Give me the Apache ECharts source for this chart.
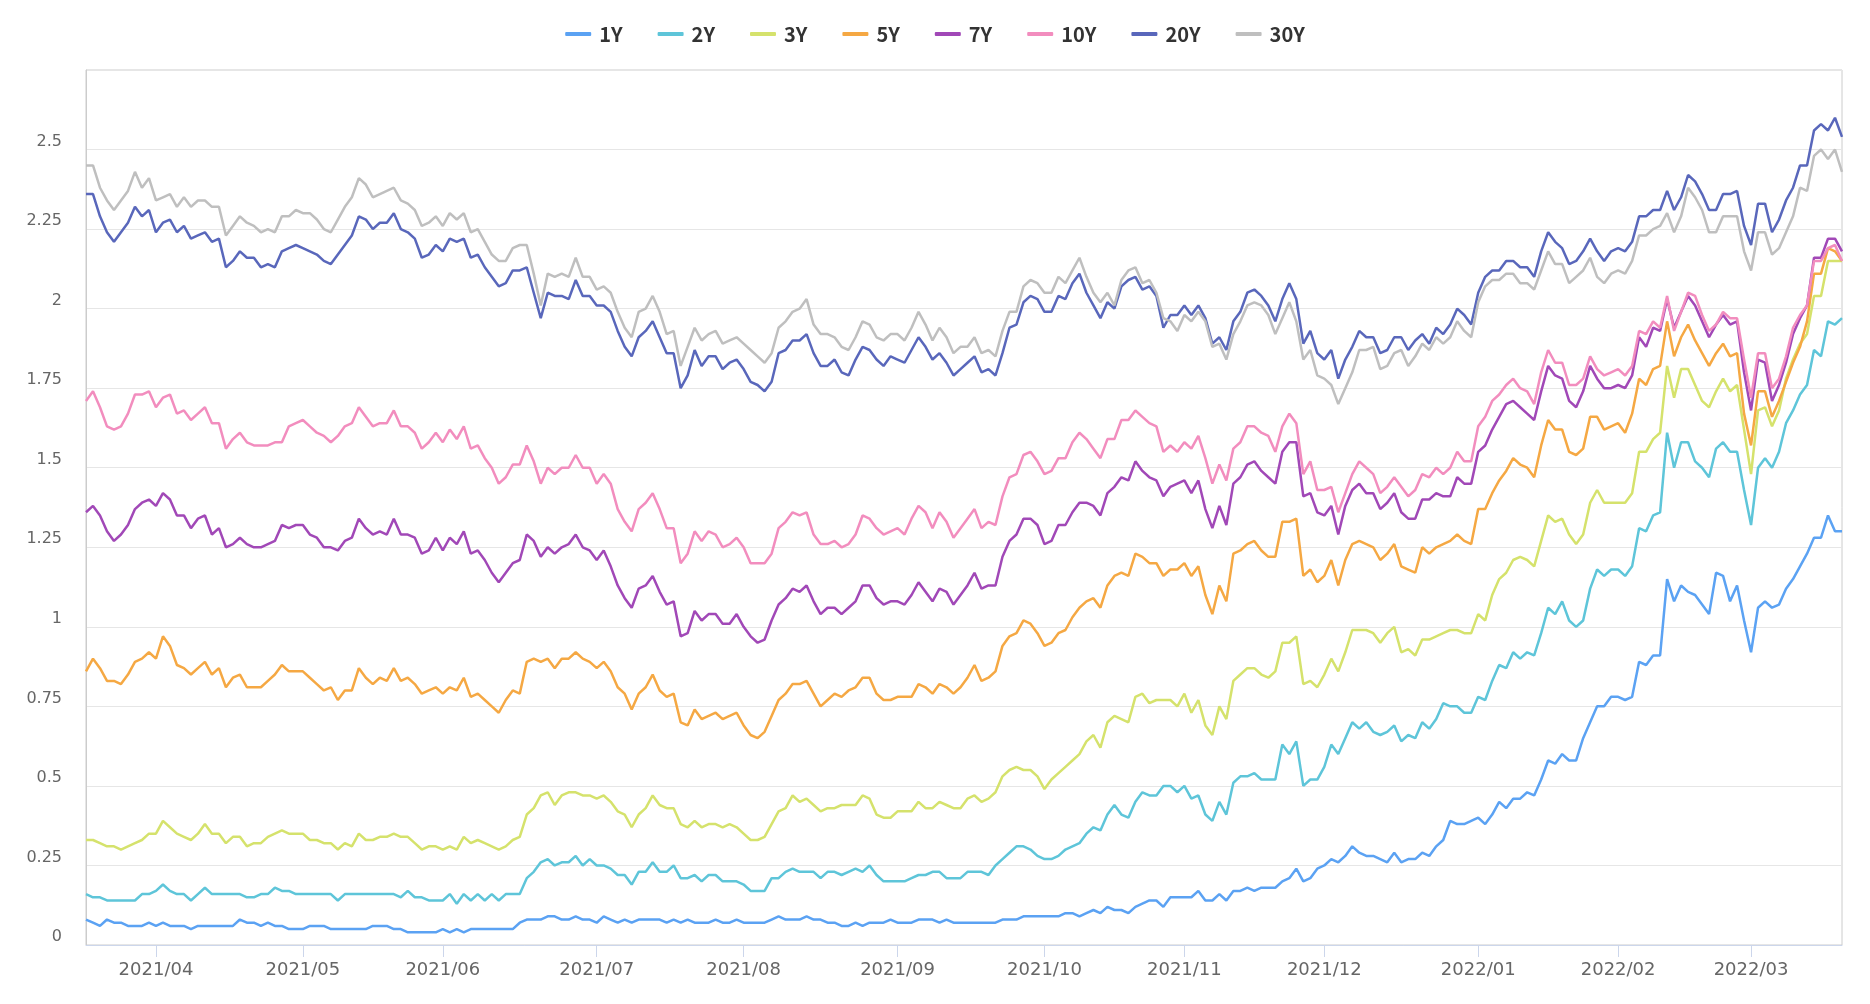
<!DOCTYPE html>
<html>
<head>
<meta charset="utf-8">
<script src="https://cdn.jsdelivr.net/npm/echarts@6/dist/echarts.min.js"></script>
<style>html,body{margin:0;padding:0;background:#fff}#c{width:1870px;height:1004px}</style>
</head>
<body>
<div id="c"></div>
<script>
// Trading days (categories)
const dates = [
'2021-03-18','2021-03-19','2021-03-22','2021-03-23','2021-03-24','2021-03-25','2021-03-26','2021-03-29','2021-03-30','2021-03-31',
'2021-04-01','2021-04-05','2021-04-06','2021-04-07','2021-04-08','2021-04-09','2021-04-12','2021-04-13','2021-04-14','2021-04-15','2021-04-16','2021-04-19','2021-04-20','2021-04-21','2021-04-22','2021-04-23','2021-04-26','2021-04-27','2021-04-28','2021-04-29','2021-04-30',
'2021-05-03','2021-05-04','2021-05-05','2021-05-06','2021-05-07','2021-05-10','2021-05-11','2021-05-12','2021-05-13','2021-05-14','2021-05-17','2021-05-18','2021-05-19','2021-05-20','2021-05-21','2021-05-24','2021-05-25','2021-05-26','2021-05-27','2021-05-28',
'2021-06-01','2021-06-02','2021-06-03','2021-06-04','2021-06-07','2021-06-08','2021-06-09','2021-06-10','2021-06-11','2021-06-14','2021-06-15','2021-06-16','2021-06-17','2021-06-18','2021-06-21','2021-06-22','2021-06-23','2021-06-24','2021-06-25','2021-06-28','2021-06-29','2021-06-30',
'2021-07-01','2021-07-02','2021-07-06','2021-07-07','2021-07-08','2021-07-09','2021-07-12','2021-07-13','2021-07-14','2021-07-15','2021-07-16','2021-07-19','2021-07-20','2021-07-21','2021-07-22','2021-07-23','2021-07-26','2021-07-27','2021-07-28','2021-07-29','2021-07-30',
'2021-08-02','2021-08-03','2021-08-04','2021-08-05','2021-08-06','2021-08-09','2021-08-10','2021-08-11','2021-08-12','2021-08-13','2021-08-16','2021-08-17','2021-08-18','2021-08-19','2021-08-20','2021-08-23','2021-08-24','2021-08-25','2021-08-26','2021-08-27','2021-08-30','2021-08-31',
'2021-09-01','2021-09-02','2021-09-03','2021-09-07','2021-09-08','2021-09-09','2021-09-10','2021-09-13','2021-09-14','2021-09-15','2021-09-16','2021-09-17','2021-09-20','2021-09-21','2021-09-22','2021-09-23','2021-09-24','2021-09-27','2021-09-28','2021-09-29','2021-09-30',
'2021-10-01','2021-10-04','2021-10-05','2021-10-06','2021-10-07','2021-10-08','2021-10-12','2021-10-13','2021-10-14','2021-10-15','2021-10-18','2021-10-19','2021-10-20','2021-10-21','2021-10-22','2021-10-25','2021-10-26','2021-10-27','2021-10-28','2021-10-29',
'2021-11-01','2021-11-02','2021-11-03','2021-11-04','2021-11-05','2021-11-08','2021-11-09','2021-11-10','2021-11-12','2021-11-15','2021-11-16','2021-11-17','2021-11-18','2021-11-19','2021-11-22','2021-11-23','2021-11-24','2021-11-26','2021-11-29','2021-11-30',
'2021-12-01','2021-12-02','2021-12-03','2021-12-06','2021-12-07','2021-12-08','2021-12-09','2021-12-10','2021-12-13','2021-12-14','2021-12-15','2021-12-16','2021-12-17','2021-12-20','2021-12-21','2021-12-22','2021-12-23','2021-12-27','2021-12-28','2021-12-29','2021-12-30','2021-12-31',
'2022-01-03','2022-01-04','2022-01-05','2022-01-06','2022-01-07','2022-01-10','2022-01-11','2022-01-12','2022-01-13','2022-01-14','2022-01-18','2022-01-19','2022-01-20','2022-01-21','2022-01-24','2022-01-25','2022-01-26','2022-01-27','2022-01-28','2022-01-31',
'2022-02-01','2022-02-02','2022-02-03','2022-02-04','2022-02-07','2022-02-08','2022-02-09','2022-02-10','2022-02-11','2022-02-14','2022-02-15','2022-02-16','2022-02-17','2022-02-18','2022-02-22','2022-02-23','2022-02-24','2022-02-25','2022-02-28',
'2022-03-01','2022-03-02','2022-03-03','2022-03-04','2022-03-07','2022-03-08','2022-03-09','2022-03-10','2022-03-11','2022-03-14','2022-03-15','2022-03-16','2022-03-17','2022-03-18'
];

const seriesNames = ['1Y','2Y','3Y','5Y','7Y','10Y','20Y','30Y'];

const y1 = [
0.08,0.07,0.06,0.08,0.07,0.07,0.06,0.06,0.06,0.07,0.06,0.07,0.06,0.06,0.06,0.05,0.06,0.06,0.06,0.06,0.06,0.06,0.08,0.07,0.07,0.06,0.07,0.06,0.06,0.05,0.05,
0.05,0.06,0.06,0.06,0.05,0.05,0.05,0.05,0.05,0.05,0.06,0.06,0.06,0.05,0.05,0.04,0.04,0.04,0.04,0.04,0.05,0.04,0.05,0.04,0.05,0.05,0.05,0.05,0.05,0.05,0.05,0.07,0.08,0.08,0.08,0.09,
0.09,0.08,0.08,0.09,0.08,0.08,0.07,0.09,0.08,0.07,0.08,0.07,0.08,0.08,0.08,0.08,0.07,0.08,0.07,0.08,0.07,0.07,0.07,0.08,0.07,0.07,0.08,0.07,0.07,0.07,0.07,0.08,0.09,0.08,0.08,0.08,
0.09,0.08,0.08,0.07,0.07,0.06,0.06,0.07,0.06,0.07,0.07,0.07,0.08,0.07,0.07,0.07,0.08,0.08,0.08,0.07,0.08,0.07,0.07,0.07,0.07,0.07,0.07,0.07,0.08,0.08,0.08,0.09,0.09,0.09,0.09,0.09,0.09,
0.10,0.10,0.09,0.10,0.11,0.10,0.12,0.11,0.11,0.10,0.12,0.13,0.14,0.14,0.12,0.15,0.15,0.15,0.15,0.17,0.14,0.14,0.16,0.14,0.17,0.17,0.18,0.17,0.18,0.18,0.18,0.20,0.21,0.24,0.20,0.21,
0.24,0.25,0.27,0.26,0.28,0.31,0.29,0.28,0.28,0.27,0.26,0.29,0.26,0.27,0.27,0.29,0.28,0.31,0.33,0.39,0.38,0.38,0.39,0.40,0.38,0.41,0.45,0.43,0.46,0.46,0.48,0.47,0.52,0.58,0.57,
0.60,0.58,0.58,0.65,0.70,0.75,0.75,0.78,0.78,0.77,0.78,0.89,0.88,0.91,0.91,1.15,1.08,1.13,1.11,1.10,1.07,1.04,1.17,1.16,1.08,1.13,1.02,0.92,1.06,1.08,1.06,1.07,1.12,1.15,1.19,1.23,1.28,1.28,1.35,1.30,1.30
];
const y2 = [
0.16,0.15,0.15,0.14,0.14,0.14,0.14,0.14,0.16,0.16,0.17,0.19,0.17,0.16,0.16,0.14,0.16,0.18,0.16,0.16,0.16,0.16,0.16,0.15,0.15,0.16,0.16,0.18,0.17,0.17,0.16,
0.16,0.16,0.16,0.16,0.16,0.14,0.16,0.16,0.16,0.16,0.16,0.16,0.16,0.16,0.15,0.17,0.15,0.15,0.14,0.14,0.14,0.16,0.13,0.16,0.14,0.16,0.14,0.16,0.14,0.16,0.16,0.16,0.21,0.23,0.26,0.27,
0.25,0.26,0.26,0.28,0.25,0.27,0.25,0.25,0.24,0.22,0.22,0.19,0.23,0.23,0.26,0.23,0.23,0.25,0.21,0.21,0.22,0.20,0.22,0.22,0.20,0.20,0.20,0.19,0.17,0.17,0.17,0.21,0.21,0.23,0.24,0.23,
0.23,0.23,0.21,0.23,0.23,0.22,0.23,0.24,0.23,0.25,0.22,0.20,0.20,0.20,0.20,0.21,0.22,0.22,0.23,0.23,0.21,0.21,0.21,0.23,0.23,0.23,0.22,0.25,0.27,0.29,0.31,0.31,0.30,0.28,0.27,0.27,0.28,
0.30,0.31,0.32,0.35,0.37,0.36,0.41,0.44,0.41,0.40,0.45,0.48,0.47,0.47,0.50,0.50,0.48,0.50,0.46,0.47,0.41,0.39,0.45,0.41,0.51,0.53,0.53,0.54,0.52,0.52,0.52,0.63,0.60,0.64,0.50,0.52,
0.52,0.56,0.63,0.60,0.65,0.70,0.68,0.70,0.67,0.66,0.67,0.69,0.64,0.66,0.65,0.70,0.68,0.71,0.76,0.75,0.75,0.73,0.73,0.78,0.77,0.83,0.88,0.87,0.92,0.90,0.92,0.91,0.98,1.06,1.04,
1.08,1.02,1.00,1.02,1.12,1.18,1.16,1.18,1.18,1.16,1.19,1.31,1.30,1.35,1.36,1.61,1.50,1.58,1.58,1.52,1.50,1.47,1.56,1.58,1.55,1.55,1.43,1.32,1.50,1.53,1.50,1.55,1.64,1.68,1.73,1.76,1.87,1.85,1.96,1.95,1.97
];
const y3 = [
0.33,0.33,0.32,0.31,0.31,0.30,0.31,0.32,0.33,0.35,0.35,0.39,0.37,0.35,0.34,0.33,0.35,0.38,0.35,0.35,0.32,0.34,0.34,0.31,0.32,0.32,0.34,0.35,0.36,0.35,0.35,
0.35,0.33,0.33,0.32,0.32,0.30,0.32,0.31,0.35,0.33,0.33,0.34,0.34,0.35,0.34,0.34,0.32,0.30,0.31,0.31,0.30,0.31,0.30,0.34,0.32,0.33,0.32,0.31,0.30,0.31,0.33,0.34,0.41,0.43,0.47,0.48,
0.44,0.47,0.48,0.48,0.47,0.47,0.46,0.47,0.45,0.42,0.41,0.37,0.41,0.43,0.47,0.44,0.43,0.43,0.38,0.37,0.39,0.37,0.38,0.38,0.37,0.38,0.37,0.35,0.33,0.33,0.34,0.38,0.42,0.43,0.47,0.45,
0.46,0.44,0.42,0.43,0.43,0.44,0.44,0.44,0.47,0.46,0.41,0.40,0.40,0.42,0.42,0.42,0.45,0.43,0.43,0.45,0.44,0.43,0.43,0.46,0.47,0.45,0.46,0.48,0.53,0.55,0.56,0.55,0.55,0.53,0.49,0.52,0.54,
0.56,0.58,0.60,0.64,0.66,0.62,0.70,0.72,0.71,0.70,0.78,0.79,0.76,0.77,0.77,0.77,0.75,0.79,0.73,0.77,0.69,0.66,0.75,0.71,0.83,0.85,0.87,0.87,0.85,0.84,0.86,0.95,0.95,0.97,0.82,0.83,
0.81,0.85,0.90,0.86,0.92,0.99,0.99,0.99,0.98,0.95,0.98,1.00,0.92,0.93,0.91,0.96,0.96,0.97,0.98,0.99,0.99,0.98,0.98,1.04,1.02,1.10,1.15,1.17,1.21,1.22,1.21,1.19,1.27,1.35,1.33,
1.34,1.29,1.26,1.29,1.39,1.43,1.39,1.39,1.39,1.39,1.42,1.55,1.55,1.59,1.61,1.82,1.72,1.81,1.81,1.76,1.71,1.69,1.74,1.78,1.74,1.76,1.62,1.48,1.68,1.69,1.63,1.68,1.78,1.84,1.89,1.92,2.04,2.04,2.15,2.15,2.15
];
const y5 = [
0.86,0.90,0.87,0.83,0.83,0.82,0.85,0.89,0.90,0.92,0.90,0.97,0.94,0.88,0.87,0.85,0.87,0.89,0.85,0.87,0.81,0.84,0.85,0.81,0.81,0.81,0.83,0.85,0.88,0.86,0.86,
0.86,0.84,0.82,0.80,0.81,0.77,0.80,0.80,0.87,0.84,0.82,0.84,0.83,0.87,0.83,0.84,0.82,0.79,0.80,0.81,0.79,0.81,0.80,0.84,0.78,0.79,0.77,0.75,0.73,0.77,0.80,0.79,0.89,0.90,0.89,0.90,
0.87,0.90,0.90,0.92,0.90,0.89,0.87,0.89,0.86,0.81,0.79,0.74,0.79,0.81,0.85,0.80,0.78,0.79,0.70,0.69,0.74,0.71,0.72,0.73,0.71,0.72,0.73,0.69,0.66,0.65,0.67,0.72,0.77,0.79,0.82,0.82,
0.83,0.79,0.75,0.77,0.79,0.78,0.80,0.81,0.84,0.84,0.79,0.77,0.77,0.78,0.78,0.78,0.82,0.81,0.79,0.82,0.81,0.79,0.81,0.84,0.88,0.83,0.84,0.86,0.94,0.97,0.98,1.02,1.01,0.98,0.94,0.95,0.98,
0.99,1.03,1.06,1.08,1.09,1.06,1.13,1.16,1.17,1.16,1.23,1.22,1.20,1.20,1.16,1.18,1.18,1.20,1.16,1.19,1.10,1.04,1.13,1.08,1.23,1.24,1.26,1.27,1.24,1.22,1.22,1.33,1.33,1.34,1.16,1.18,
1.14,1.16,1.21,1.13,1.21,1.26,1.27,1.26,1.25,1.21,1.23,1.26,1.19,1.18,1.17,1.25,1.23,1.25,1.26,1.27,1.29,1.27,1.26,1.37,1.37,1.42,1.46,1.49,1.53,1.51,1.50,1.47,1.57,1.65,1.62,
1.62,1.55,1.54,1.56,1.66,1.66,1.62,1.63,1.64,1.61,1.67,1.78,1.76,1.81,1.82,1.96,1.85,1.91,1.95,1.90,1.86,1.82,1.86,1.89,1.85,1.86,1.67,1.57,1.74,1.74,1.66,1.71,1.77,1.83,1.88,1.96,2.11,2.11,2.19,2.18,2.15
];
const y7 = [
1.36,1.38,1.35,1.30,1.27,1.29,1.32,1.37,1.39,1.40,1.38,1.42,1.40,1.35,1.35,1.31,1.34,1.35,1.29,1.31,1.25,1.26,1.28,1.26,1.25,1.25,1.26,1.27,1.32,1.31,1.32,
1.32,1.29,1.28,1.25,1.25,1.24,1.27,1.28,1.34,1.31,1.29,1.30,1.29,1.34,1.29,1.29,1.28,1.23,1.24,1.28,1.24,1.28,1.26,1.30,1.23,1.24,1.21,1.17,1.14,1.17,1.20,1.21,1.29,1.27,1.22,1.25,
1.23,1.25,1.26,1.29,1.25,1.24,1.21,1.24,1.19,1.13,1.09,1.06,1.12,1.13,1.16,1.11,1.07,1.08,0.97,0.98,1.05,1.02,1.04,1.04,1.01,1.01,1.04,1.00,0.97,0.95,0.96,1.02,1.07,1.09,1.12,1.11,
1.13,1.08,1.04,1.06,1.06,1.04,1.06,1.08,1.13,1.13,1.09,1.07,1.08,1.08,1.07,1.10,1.14,1.11,1.08,1.12,1.11,1.07,1.10,1.13,1.17,1.12,1.13,1.13,1.22,1.27,1.29,1.34,1.34,1.32,1.26,1.27,1.32,
1.32,1.36,1.39,1.39,1.38,1.35,1.42,1.44,1.47,1.46,1.52,1.49,1.47,1.46,1.41,1.44,1.45,1.46,1.42,1.46,1.37,1.31,1.38,1.32,1.45,1.47,1.51,1.52,1.49,1.47,1.45,1.55,1.58,1.58,1.41,1.42,
1.36,1.35,1.38,1.29,1.38,1.43,1.45,1.42,1.42,1.37,1.39,1.42,1.36,1.34,1.34,1.40,1.40,1.42,1.41,1.41,1.47,1.45,1.45,1.55,1.57,1.62,1.66,1.70,1.71,1.69,1.67,1.65,1.74,1.82,1.79,
1.78,1.71,1.69,1.74,1.82,1.78,1.75,1.75,1.76,1.75,1.79,1.91,1.88,1.94,1.93,2.03,1.94,1.99,2.04,2.01,1.96,1.91,1.95,1.98,1.95,1.96,1.80,1.68,1.84,1.83,1.71,1.76,1.83,1.92,1.97,2.01,2.16,2.16,2.22,2.22,2.18
];
const y10 = [
1.71,1.74,1.69,1.63,1.62,1.63,1.67,1.73,1.73,1.74,1.69,1.72,1.73,1.67,1.68,1.65,1.67,1.69,1.64,1.64,1.56,1.59,1.61,1.58,1.57,1.57,1.57,1.58,1.58,1.63,1.64,
1.65,1.63,1.61,1.60,1.58,1.60,1.63,1.64,1.69,1.66,1.63,1.64,1.64,1.68,1.63,1.63,1.61,1.56,1.58,1.61,1.58,1.62,1.59,1.63,1.56,1.57,1.53,1.50,1.45,1.47,1.51,1.51,1.57,1.52,1.45,1.50,
1.48,1.50,1.50,1.54,1.50,1.50,1.45,1.48,1.45,1.37,1.33,1.30,1.37,1.39,1.42,1.37,1.31,1.31,1.20,1.23,1.30,1.27,1.30,1.29,1.25,1.26,1.28,1.25,1.20,1.20,1.20,1.23,1.31,1.33,1.36,1.35,
1.36,1.29,1.26,1.26,1.27,1.25,1.26,1.29,1.35,1.34,1.31,1.29,1.30,1.31,1.29,1.34,1.38,1.36,1.31,1.36,1.33,1.28,1.31,1.34,1.37,1.31,1.33,1.32,1.41,1.47,1.48,1.54,1.55,1.52,1.48,1.49,1.53,
1.53,1.58,1.61,1.59,1.56,1.53,1.59,1.59,1.65,1.65,1.68,1.66,1.64,1.63,1.55,1.57,1.55,1.58,1.56,1.60,1.53,1.45,1.51,1.46,1.56,1.58,1.63,1.63,1.61,1.60,1.55,1.63,1.67,1.64,1.48,1.52,
1.43,1.43,1.44,1.36,1.42,1.48,1.52,1.50,1.48,1.42,1.44,1.47,1.44,1.41,1.43,1.48,1.47,1.50,1.48,1.50,1.55,1.52,1.52,1.63,1.66,1.71,1.73,1.76,1.78,1.75,1.74,1.70,1.80,1.87,1.83,
1.83,1.76,1.76,1.78,1.85,1.81,1.79,1.80,1.81,1.79,1.82,1.93,1.92,1.96,1.94,2.04,1.93,1.99,2.05,2.04,1.98,1.93,1.95,1.99,1.97,1.97,1.84,1.72,1.86,1.86,1.75,1.78,1.85,1.94,1.98,2.01,2.15,2.15,2.19,2.20,2.15
];
const y20 = [
2.36,2.36,2.29,2.24,2.21,2.24,2.27,2.32,2.29,2.31,2.24,2.27,2.28,2.24,2.26,2.22,2.23,2.24,2.21,2.22,2.13,2.15,2.18,2.16,2.16,2.13,2.14,2.13,2.18,2.19,2.20,
2.19,2.18,2.17,2.15,2.14,2.17,2.20,2.23,2.29,2.28,2.25,2.27,2.27,2.30,2.25,2.24,2.22,2.16,2.17,2.20,2.18,2.22,2.21,2.22,2.16,2.17,2.13,2.10,2.07,2.08,2.12,2.12,2.13,2.05,1.97,2.05,
2.04,2.04,2.03,2.09,2.04,2.04,2.01,2.01,1.99,1.93,1.88,1.85,1.91,1.93,1.96,1.91,1.86,1.86,1.75,1.79,1.87,1.82,1.85,1.85,1.81,1.83,1.84,1.81,1.77,1.76,1.74,1.77,1.86,1.87,1.90,1.90,
1.92,1.86,1.82,1.82,1.84,1.80,1.79,1.84,1.88,1.87,1.84,1.82,1.85,1.84,1.83,1.87,1.91,1.88,1.84,1.86,1.83,1.79,1.81,1.83,1.85,1.80,1.81,1.79,1.86,1.94,1.95,2.02,2.04,2.03,1.99,1.99,2.04,
2.03,2.08,2.11,2.05,2.01,1.97,2.02,2.00,2.07,2.09,2.10,2.06,2.07,2.04,1.94,1.98,1.98,2.01,1.98,2.01,1.97,1.89,1.91,1.87,1.96,1.99,2.05,2.06,2.04,2.01,1.96,2.03,2.08,2.03,1.89,1.93,
1.86,1.84,1.87,1.78,1.84,1.88,1.93,1.91,1.91,1.86,1.87,1.91,1.91,1.87,1.90,1.92,1.89,1.94,1.92,1.95,2.00,1.98,1.95,2.05,2.10,2.12,2.12,2.15,2.15,2.13,2.13,2.10,2.18,2.24,2.21,
2.19,2.14,2.15,2.18,2.22,2.18,2.15,2.18,2.19,2.18,2.21,2.29,2.29,2.31,2.31,2.37,2.31,2.35,2.42,2.40,2.36,2.31,2.31,2.36,2.36,2.37,2.26,2.20,2.33,2.33,2.24,2.28,2.34,2.38,2.45,2.45,2.56,2.58,2.56,2.60,2.54
];
const y30 = [
2.45,2.45,2.38,2.34,2.31,2.34,2.37,2.43,2.38,2.41,2.34,2.35,2.36,2.32,2.35,2.32,2.34,2.34,2.32,2.32,2.23,2.26,2.29,2.27,2.26,2.24,2.25,2.24,2.29,2.29,2.31,
2.30,2.30,2.28,2.25,2.24,2.28,2.32,2.35,2.41,2.39,2.35,2.36,2.37,2.38,2.34,2.33,2.31,2.26,2.27,2.29,2.26,2.30,2.28,2.30,2.24,2.25,2.21,2.17,2.15,2.15,2.19,2.20,2.20,2.11,2.01,2.11,
2.10,2.11,2.10,2.16,2.10,2.10,2.06,2.07,2.05,1.99,1.94,1.91,1.99,2.00,2.04,1.99,1.92,1.93,1.82,1.88,1.94,1.90,1.92,1.93,1.89,1.90,1.91,1.89,1.87,1.85,1.83,1.86,1.94,1.96,1.99,2.00,
2.03,1.95,1.92,1.92,1.91,1.88,1.87,1.91,1.96,1.95,1.91,1.90,1.92,1.92,1.90,1.94,1.99,1.95,1.90,1.94,1.91,1.86,1.88,1.88,1.91,1.86,1.87,1.85,1.93,1.99,1.99,2.07,2.09,2.08,2.05,2.05,2.10,
2.08,2.12,2.16,2.10,2.05,2.02,2.05,2.01,2.09,2.12,2.13,2.08,2.09,2.05,1.97,1.96,1.93,1.98,1.96,1.99,1.96,1.88,1.89,1.84,1.92,1.96,2.01,2.02,2.01,1.98,1.92,1.97,2.02,1.96,1.84,1.87,
1.79,1.78,1.76,1.70,1.75,1.80,1.87,1.87,1.88,1.81,1.82,1.86,1.87,1.82,1.85,1.89,1.87,1.91,1.89,1.91,1.96,1.93,1.91,2.02,2.07,2.09,2.09,2.11,2.11,2.08,2.08,2.06,2.12,2.18,2.14,
2.14,2.08,2.10,2.12,2.16,2.10,2.08,2.11,2.12,2.11,2.15,2.23,2.23,2.25,2.26,2.30,2.24,2.29,2.38,2.35,2.31,2.24,2.24,2.29,2.29,2.29,2.18,2.12,2.24,2.24,2.17,2.19,2.24,2.29,2.38,2.37,2.48,2.50,2.47,2.50,2.43
];

const seriesValues = [y1, y2, y3, y5, y7, y10, y20, y30];
const seriesColors = ['#5ba2f3','#5ec5d9','#d5e26c','#f5a843','#a148b7','#f28dbe','#5967bb','#bfbfbf'];

const isMonthStart = (i) => i > 0 && dates[i].slice(0, 7) !== dates[i - 1].slice(0, 7);

const chart = echarts.init(document.getElementById('c'), null, {renderer: 'canvas'});
chart.setOption({
  animation: false,
  backgroundColor: '#ffffff',
  color: seriesColors,
  legend: {
    top: 19, left: 'center',
    icon: 'roundRect', itemWidth: 26, itemHeight: 4, itemGap: 35,
    textStyle: {fontSize: 20, fontWeight: 'bold', color: '#333', fontFamily: 'Noto Sans CJK SC', padding: [0, 0, 0, 3]}
  },
  grid: {left: 86, right: 28, top: 70, bottom: 59, show: true, borderColor: '#cccccc', borderWidth: 1},
  xAxis: {
    type: 'category', data: dates, boundaryGap: false,
    axisLine: {lineStyle: {color: '#ccd6eb', width: 1}},
    axisTick: {show: true, interval: isMonthStart, length: 12, lineStyle: {color: '#ccd6eb'}},
    axisLabel: {interval: isMonthStart, formatter: v => v.slice(0, 4) + '/' + v.slice(5, 7), color: '#666', fontSize: 18, fontFamily: 'DejaVu Sans', margin: 16},
    splitLine: {show: false}
  },
  yAxis: {
    type: 'value', min: 0, max: 2.75, interval: 0.25,
    axisLine: {show: true, lineStyle: {color: '#cccccc'}},
    axisTick: {show: false},
    axisLabel: {color: '#666', fontSize: 16, fontFamily: 'DejaVu Sans', margin: 24, verticalAlign: 'bottom', showMaxLabel: false},
    splitLine: {lineStyle: {color: '#e6e6e6'}}
  },
  series: seriesNames.map((n, i) => ({
    name: n, type: 'line', data: seriesValues[i],
    symbol: 'none', showSymbol: false,
    lineStyle: {width: 2.5, color: seriesColors[i]},
    itemStyle: {color: seriesColors[i]}
  }))
});
const bad = seriesValues.map((a, i) => a.length !== dates.length ? seriesNames[i] + ':' + a.length : null).filter(Boolean);
if (bad.length) { setTimeout(() => { throw new Error('length mismatch ' + dates.length + ' ' + bad.join(',')); }, 0); }
</script>
</body>
</html>
